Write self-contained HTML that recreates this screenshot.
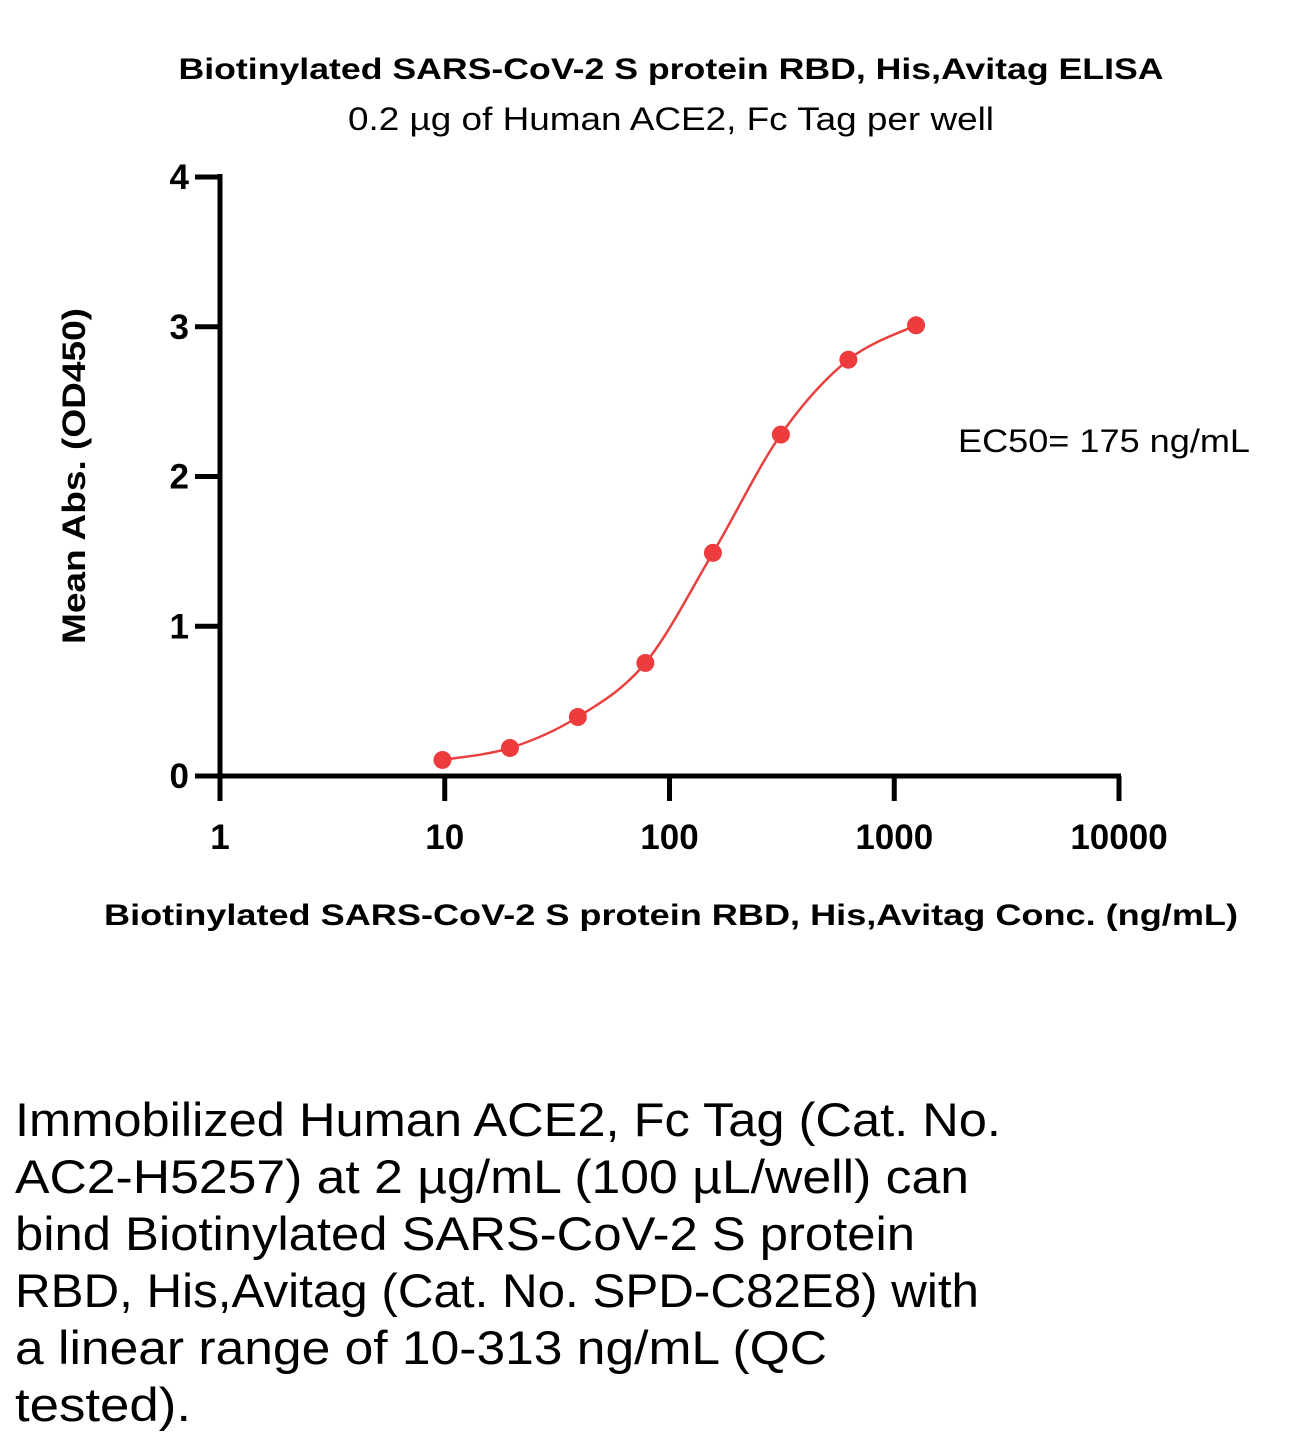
<!DOCTYPE html>
<html><head><meta charset="utf-8"><style>
html,body{margin:0;padding:0;background:#fff;}
svg{display:block;font-family:"Liberation Sans",sans-serif;}
</style></head><body>
<svg id="chart" width="1294" height="1445" viewBox="0 0 1294 1445">
<text x="671" y="79" text-anchor="middle" font-size="30" font-weight="bold" textLength="985" lengthAdjust="spacingAndGlyphs">Biotinylated SARS-CoV-2 S protein RBD, His,Avitag ELISA</text>
<text x="671" y="130" text-anchor="middle" font-size="32" textLength="646" lengthAdjust="spacingAndGlyphs">0.2 µg of Human ACE2, Fc Tag per well</text>
<text transform="translate(85,476) rotate(-90)" text-anchor="middle" font-size="32" font-weight="bold" textLength="336" lengthAdjust="spacingAndGlyphs">Mean Abs. (OD450)</text>
<text x="671" y="925" text-anchor="middle" font-size="30" font-weight="bold" textLength="1134" lengthAdjust="spacingAndGlyphs">Biotinylated SARS-CoV-2 S protein RBD, His,Avitag Conc. (ng/mL)</text>
<text x="958" y="452" font-size="32" textLength="292" lengthAdjust="spacingAndGlyphs">EC50= 175 ng/mL</text>
<g id="axes"></g>
<g id="series"></g>
<g font-size="47">
<text x="15" y="1136" textLength="986" lengthAdjust="spacingAndGlyphs">Immobilized Human ACE2, Fc Tag (Cat. No.</text>
<text x="15" y="1193" textLength="954" lengthAdjust="spacingAndGlyphs">AC2-H5257) at 2 µg/mL (100 µL/well) can</text>
<text x="15" y="1250" textLength="900" lengthAdjust="spacingAndGlyphs">bind Biotinylated SARS-CoV-2 S protein</text>
<text x="15" y="1307" textLength="964" lengthAdjust="spacingAndGlyphs">RBD, His,Avitag (Cat. No. SPD-C82E8) with</text>
<text x="15" y="1364" textLength="812" lengthAdjust="spacingAndGlyphs">a linear range of 10-313 ng/mL (QC</text>
<text x="15" y="1421" textLength="176" lengthAdjust="spacingAndGlyphs">tested).</text>
</g>
</svg>
<script>
const xTicks=[1,10,100,1000,10000];
const xTickLabels=["1","10","100","1000","10000"];
const yTicks=[0,1,2,3,4];
const yTickLabels=["0","1","2","3","4"];
const concentrations=[9.77,19.5,39.1,78.1,156,313,625,1250];
const absorbance=[0.107,0.187,0.394,0.755,1.49,2.28,2.78,3.01];

const NS="http://www.w3.org/2000/svg";
const X0=220,X1=1119,Y0=776,Y1=177;
function xs(v){return X0+(Math.log10(v)-0)/(4-0)*(X1-X0);}
function ys(v){return Y0-(v/4)*(Y0-Y1);}
function mk(tag,attrs,parent){const e=document.createElementNS(NS,tag);for(const k in attrs)e.setAttribute(k,attrs[k]);parent.appendChild(e);return e;}
const axes=document.getElementById('axes');
const series=document.getElementById('series');

const ya=mk('line',{x1:X0,y1:Y0+2,x2:X0,y2:Y1-3,stroke:'#000','stroke-width':5},axes);


const xa=mk('line',{x1:X0-25,y1:Y0,x2:X1+2,y2:Y0,stroke:'#000','stroke-width':5},axes);



yTicks.forEach((t,i)=>{
  const y=ys(t);
  const l=mk('line',{x1:X0-25,y1:y,x2:X0,y2:y,stroke:'#000','stroke-width':5},axes);
  
  
  const tx=mk('text',{x:189,y:y+12,'text-anchor':'end','font-size':35,'font-weight':'bold'},axes);
  tx.textContent=yTickLabels[i];
  
  
});
xTicks.forEach((t,i)=>{
  const x=xs(t);
  const l=mk('line',{x1:x,y1:Y0,x2:x,y2:801,stroke:'#000','stroke-width':5},axes);
  
  
  const tx=mk('text',{x:x,y:849,'text-anchor':'middle','font-size':35,'font-weight':'bold'},axes);
  tx.textContent=xTickLabels[i];
  
  
});

const pts=concentrations.map((c,i)=>[xs(c),ys(absorbance[i])]);
let d='M'+pts[0][0]+','+pts[0][1];
for(let i=0;i<pts.length-1;i++){
  const p0=pts[Math.max(0,i-1)],p1=pts[i],p2=pts[i+1],p3=pts[Math.min(pts.length-1,i+2)];
  const c1=[p1[0]+(p2[0]-p0[0])/6,p1[1]+(p2[1]-p0[1])/6];
  const c2=[p2[0]-(p3[0]-p1[0])/6,p2[1]-(p3[1]-p1[1])/6];
  d+=' C'+c1+' '+c2+' '+p2;
}
const curve=mk('path',{d:d,fill:'none',stroke:'#e8413f','stroke-width':2.5},series);


pts.forEach(p=>{
  const c=mk('circle',{cx:p[0],cy:p[1],r:9,fill:'#ee3b3d'},series);
  
  
});
</script>
</body></html>
